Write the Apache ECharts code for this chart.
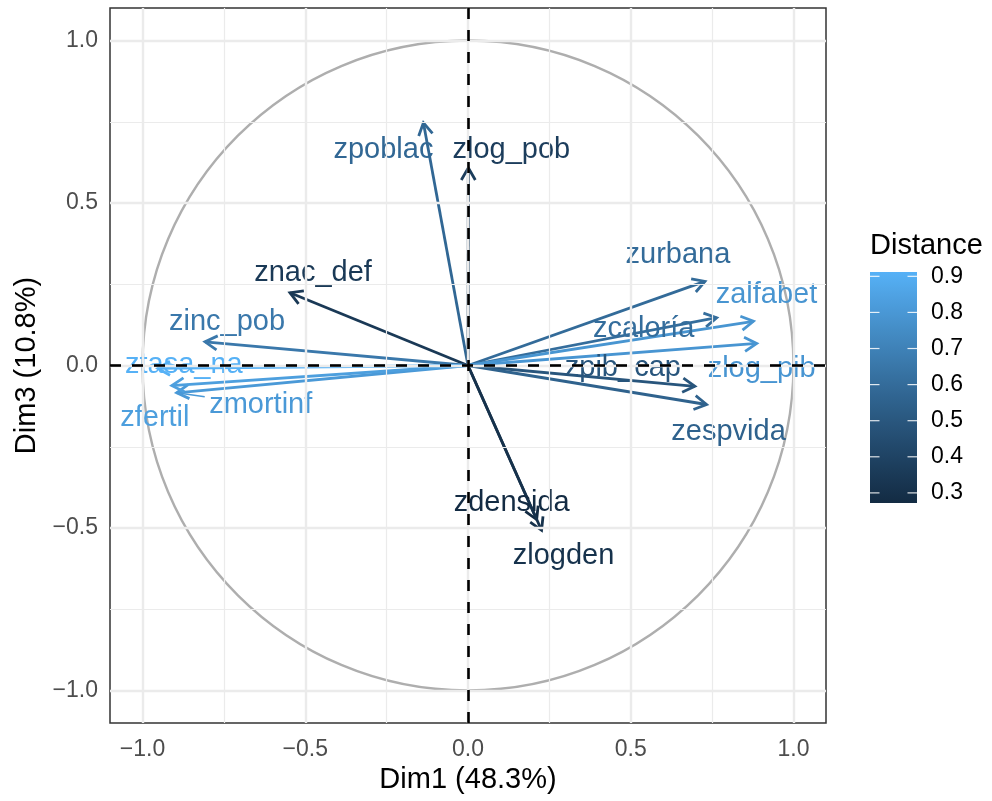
<!DOCTYPE html>
<html>
<head>
<meta charset="utf-8">
<script src="https://cdn.jsdelivr.net/npm/echarts@6/dist/echarts.min.js"></script>
<style>
html,body{margin:0;padding:0;background:#fff;}
#chart{width:992px;height:801px;}
</style>
</head>
<body>
<div id="chart"></div>
<script>
// ---- data ----
var varNames = ['zpoblac','zlog_pob','znac_def','zinc_pob','ztasa_na','zmortinf','zfertil','zurbana','zcaloría','zalfabet','zlog_pib','zpib_cap','zespvida','zdensida','zlogden'];
var dim1 = [-0.137, 0.001, -0.547, -0.808, -0.953, -0.895, -0.910, 0.728, 0.764, 0.877, 0.887, 0.697, 0.733, 0.211, 0.226];
var dim3 = [0.747, 0.608, 0.224, 0.073, -0.009, -0.084, -0.062, 0.259, 0.147, 0.136, 0.068, -0.064, -0.120, -0.474, -0.507];
var distance = [0.577, 0.370, 0.349, 0.658, 0.910, 0.808, 0.832, 0.597, 0.605, 0.788, 0.791, 0.490, 0.552, 0.272, 0.308];
var axisTicks = [-1, -0.5, 0, 0.5, 1];
var minorGrid = [-0.75, -0.25, 0.25, 0.75];
var legendTicks = [0.3, 0.4, 0.5, 0.6, 0.7, 0.8, 0.9];
var distRange = [0.272, 0.912];

// label placement (pixel offsets from arrow tip), style only
var labelOffsets = [[-40,27],[43,-18],[23,-20],[22,-20],[26,-3],[84,12],[-17,32],[-27,-26],[-73,11],[13,-26],[5,26],[-72,-18],[22,27],[-25,-17],[22,26]];
var labelSegment = [false,false,false,false,false,true,false,false,false,false,false,false,false,false,false];

// ---- colour scale (Lab interpolation like ggplot) ----
function hex2rgb(h){return [parseInt(h.substr(1,2),16),parseInt(h.substr(3,2),16),parseInt(h.substr(5,2),16)];}
function lin(c){c/=255;return c<=0.04045?c/12.92:Math.pow((c+0.055)/1.055,2.4);}
function delin(c){c=c<=0.0031308?12.92*c:1.055*Math.pow(c,1/2.4)-0.055;return Math.max(0,Math.min(255,Math.round(c*255)));}
var Xn=0.95047,Yn=1,Zn=1.08883;
function f(t){return t>0.008856?Math.cbrt(t):7.787*t+16/116;}
function finv(t){return t>0.206893?t*t*t:(t-16/116)/7.787;}
function rgb2lab(rgb){var r=lin(rgb[0]),g=lin(rgb[1]),b=lin(rgb[2]);
 var X=0.4124*r+0.3576*g+0.1805*b,Y=0.2126*r+0.7152*g+0.0722*b,Z=0.0193*r+0.1192*g+0.9505*b;
 var fx=f(X/Xn),fy=f(Y/Yn),fz=f(Z/Zn);return [116*fy-16,500*(fx-fy),200*(fy-fz)];}
function lab2rgb(l){var fy=(l[0]+16)/116,fx=fy+l[1]/500,fz=fy-l[2]/200;
 var X=Xn*finv(fx),Y=Yn*finv(fy),Z=Zn*finv(fz);
 var r=3.2406*X-1.5372*Y-0.4986*Z,g=-0.9689*X+1.8758*Y+0.0415*Z,b=0.0557*X-0.2040*Y+1.0570*Z;
 return 'rgb('+delin(r)+','+delin(g)+','+delin(b)+')';}
var labLow=rgb2lab(hex2rgb('#132B43')), labHigh=rgb2lab(hex2rgb('#56B1F7'));
function colorFor(v){var t=(v-distRange[0])/(distRange[1]-distRange[0]);t=Math.max(0,Math.min(1,t));
 return lab2rgb([labLow[0]+(labHigh[0]-labLow[0])*t,labLow[1]+(labHigh[1]-labLow[1])*t,labLow[2]+(labHigh[2]-labLow[2])*t]);}

var FONT='"Liberation Sans", Arial, Helvetica, sans-serif';
function fmt(v){var s=Math.abs(v).toFixed(1);return v<0?'\u2212'+s:s;}

var arrowData = varNames.map(function(n,i){return [dim1[i],dim3[i],distance[i],i];});

var chart = echarts.init(document.getElementById('chart'), null, {renderer:'canvas'});

var gridLineData = [];
minorGrid.forEach(function(v){gridLineData.push({xAxis:v,lineStyle:{color:'#EBEBEB',width:1.2,type:'solid'}});gridLineData.push({yAxis:v,lineStyle:{color:'#EBEBEB',width:1.2,type:'solid'}});});
axisTicks.forEach(function(v){gridLineData.push({xAxis:v,lineStyle:{color:'#EBEBEB',width:2.4,type:'solid'}});gridLineData.push({yAxis:v,lineStyle:{color:'#EBEBEB',width:2.4,type:'solid'}});});

var option = {
  animation:false,
  backgroundColor:'#ffffff',
  textStyle:{fontFamily:FONT},
  title:{text:'Distance',left:870,top:231,padding:0,
    textStyle:{fontSize:29,fontWeight:'normal',color:'#000',fontFamily:FONT}},
  grid:[
    {left:110,top:8,width:716,height:715,show:true,borderColor:'#333333',borderWidth:1.5,backgroundColor:'#fff',containLabel:false,outerBoundsMode:'none',z:0},
    {left:870,top:272,width:47,height:231,show:false,containLabel:false,outerBoundsMode:'none'}
  ],
  xAxis:[
    {gridIndex:0,type:'value',min:-1.1,max:1.1,
     name:'Dim1 (48.3%)',nameLocation:'middle',nameGap:41,
     nameTextStyle:{fontSize:29,color:'#000',fontFamily:FONT},
     axisLine:{show:false},splitLine:{show:false},
     axisTick:{show:true,length:6,customValues:axisTicks,lineStyle:{color:'#333333',width:2}},
     axisLabel:{show:true,customValues:axisTicks,formatter:fmt,fontSize:23,color:'#4D4D4D',margin:15,fontFamily:FONT}},
    {gridIndex:1,type:'value',min:0,max:1,show:false}
  ],
  yAxis:[
    {gridIndex:0,type:'value',min:-1.1,max:1.1,
     name:'Dim3 (10.8%)',nameLocation:'middle',nameGap:63,nameRotate:90,
     nameTextStyle:{fontSize:29,color:'#000',fontFamily:FONT},
     axisLine:{show:false},splitLine:{show:false},
     axisTick:{show:true,length:6,customValues:axisTicks,lineStyle:{color:'#333333',width:2}},
     axisLabel:{show:true,customValues:axisTicks,formatter:fmt,fontSize:23,color:'#4D4D4D',margin:12,fontFamily:FONT}},
    {gridIndex:1,type:'value',min:distRange[0],max:distRange[1],position:'right',
     axisLine:{show:false},splitLine:{show:false},
     axisTick:{show:false},
     axisLabel:{show:true,customValues:legendTicks,formatter:function(v){return v.toFixed(1);},fontSize:23,color:'#000',margin:14,fontFamily:FONT}}
  ],
  series:[
    // grid lines (data positions via markLine)
    {type:'line',xAxisIndex:0,yAxisIndex:0,data:[],silent:true,z:1,
     markLine:{silent:true,symbol:['none','none'],label:{show:false},animation:false,data:gridLineData}},
    // unit circle
    {type:'custom',xAxisIndex:0,yAxisIndex:0,z:2,silent:true,data:[[0,0]],
     renderItem:function(params,api){
       var c=api.coord([0,0]);var r=api.size([1,1]);
       return {type:'ellipse',shape:{cx:c[0],cy:c[1],rx:r[0],ry:r[1]},style:{fill:'none',stroke:'#AEAEAE',lineWidth:2.4}};
     }},
    // arrows
    {type:'custom',xAxisIndex:0,yAxisIndex:0,z:3,silent:true,data:arrowData,
     renderItem:function(params,api){
       var x=api.value(0),y=api.value(1),d=api.value(2),i=api.value(3);
       var p0=api.coord([0,0]),p1=api.coord([x,y]);
       var col=colorFor(d);
       var ang=Math.atan2(p1[1]-p0[1],p1[0]-p0[0]);
       var L=14,a=Math.PI/6;
       var h1=[p1[0]-L*Math.cos(ang-a),p1[1]-L*Math.sin(ang-a)];
       var h2=[p1[0]-L*Math.cos(ang+a),p1[1]-L*Math.sin(ang+a)];
       var ls={fill:'none',stroke:col,lineWidth:2.8,lineCap:'butt',lineJoin:'miter'};
       return {type:'group',children:[
         {type:'line',shape:{x1:p0[0],y1:p0[1],x2:p1[0],y2:p1[1]},style:ls},
         {type:'polyline',shape:{points:[h1,p1,h2]},style:ls}
       ]};
     }},
    // labels
    {type:'custom',xAxisIndex:0,yAxisIndex:0,z:4,silent:true,data:arrowData,
     renderItem:function(params,api){
       var x=api.value(0),y=api.value(1),d=api.value(2),i=api.value(3);
       var p1=api.coord([x,y]);var col=colorFor(d);
       var off=labelOffsets[i];var cx=p1[0]+off[0],cy=p1[1]+off[1];
       var children=[{type:'text',x:cx,y:cy,style:{text:varNames[i],fill:col,font:'29px '+FONT,align:'center',verticalAlign:'middle'}}];
       if(labelSegment[i]){
         var hw=56,hh=14;
         var dx=p1[0]-cx,dy=p1[1]-cy;
         var t=Math.min(hw/Math.abs(dx||1e-6),hh/Math.abs(dy||1e-6));
         var ex=cx+dx*t,ey=cy+dy*t;
         children.push({type:'line',shape:{x1:p1[0],y1:p1[1],x2:ex,y2:ey},style:{fill:'none',stroke:col,lineWidth:1.5}});
       }
       return {type:'group',children:children};
     }},
    // dashed origin lines
    {type:'line',xAxisIndex:0,yAxisIndex:0,data:[],silent:true,z:5,
     markLine:{silent:true,symbol:['none','none'],label:{show:false},animation:false,
       lineStyle:{color:'#000',width:2.6,type:[11,11]},
       data:[{xAxis:0},{yAxis:0}]}},
    // colour bar
    {type:'custom',xAxisIndex:1,yAxisIndex:1,z:2,silent:true,data:[[0.5,distRange[0]]],
     renderItem:function(params,api){
       var cs=params.coordSys;
       var top=api.coord([0,distRange[1]])[1],bot=api.coord([0,distRange[0]])[1];
       var stops=[];for(var k=0;k<=20;k++){var v=distRange[1]-(distRange[1]-distRange[0])*k/20;stops.push({offset:k/20,color:colorFor(v)});}
       var children=[{type:'rect',shape:{x:cs.x,y:top,width:cs.width,height:bot-top},
          style:{fill:new echarts.graphic.LinearGradient(0,0,0,1,stops)}}];
       legendTicks.forEach(function(t){
         var yy=api.coord([0,t])[1];
         children.push({type:'line',shape:{x1:cs.x,y1:yy,x2:cs.x+9.5,y2:yy},style:{stroke:'rgba(255,255,255,0.85)',lineWidth:1.2}});
         children.push({type:'line',shape:{x1:cs.x+cs.width-9.5,y1:yy,x2:cs.x+cs.width,y2:yy},style:{stroke:'rgba(255,255,255,0.85)',lineWidth:1.2}});
       });
       return {type:'group',children:children};
     }}
  ]
};
chart.setOption(option);
</script>
</body>
</html>
